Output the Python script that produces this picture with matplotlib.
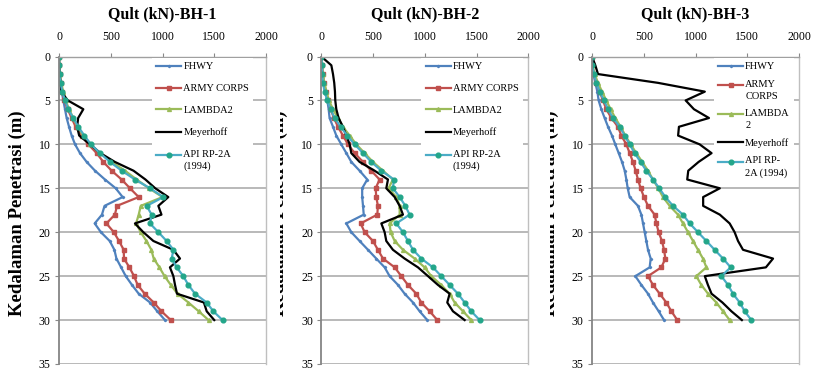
import numpy as np
import matplotlib
matplotlib.use("Agg")
import matplotlib.pyplot as plt
from matplotlib.legend_handler import HandlerLine2D
from matplotlib.transforms import Bbox, TransformedBbox

plt.rcParams['font.family'] = ['Liberation Serif', 'DejaVu Serif']

depth = list(range(0, 31))
series_names = ["FHWY", "ARMY CORPS", "LAMBDA2", "Meyerhoff", "API RP-2A\n(1994)"]
series_names_bh3 = ["FHWY", "ARMY\nCORPS", "LAMBDA\n2", "Meyerhoff", "API RP-\n2A (1994)"]
titles = ["Qult (kN)-BH-1", "Qult (kN)-BH-2", "Qult (kN)-BH-3"]
x_ticks = [0, 500, 1000, 1500, 2000]
y_ticks = [0, 5, 10, 15, 20, 25, 30, 35]

# ---- BH-1 ----
bh1_fhwy = [0, 2, 5, 13, 26, 42, 58, 74, 97, 122, 155, 203, 267, 348, 444, 548,
            615, 440, 415, 345, 405, 490, 535, 555, 600, 645, 705, 770, 880, 950, 1024]
bh1_army = [0, 3, 6, 19, 32, 52, 84, 122, 161, 219, 283, 364, 428, 509, 605, 686,
            770, 560, 540, 458, 530, 580, 625, 628, 680, 725, 760, 828, 915, 990, 1080]
bh1_lambda = [0, 3, 8, 20, 42, 64, 97, 138, 180, 235, 300, 396, 509, 638, 750, 870,
              1000, 790, 770, 745, 790, 845, 892, 915, 970, 1020, 1080, 1145, 1250, 1350, 1445]
bh1_meyer = [0, 0, 5, 15, 22, 85, 235, 185, 175, 195, 300, 400, 540, 720, 835, 930,
             1056, 960, 990, 734, 815, 912, 1105, 1169, 1072, 1105, 1121, 1140, 1400, 1427, 1500]
bh1_api = [0, 2, 5, 16, 32, 58, 90, 138, 187, 245, 309, 396, 493, 606, 734, 880,
           1008, 847, 895, 879, 960, 1040, 1105, 1089, 1137, 1201, 1250, 1314, 1427, 1491, 1580]

# ---- BH-2 ----
bh2_fhwy = [0, 6, 16, 26, 39, 58, 71, 80, 113, 145, 193, 242, 290, 370, 444, 395,
            395, 403, 410, 242, 290, 370, 451, 531, 612, 660, 741, 805, 886, 950, 1024]
bh2_army = [0, 6, 12, 25, 45, 64, 90, 122, 161, 209, 258, 322, 403, 483, 563, 525,
            531, 547, 541, 380, 419, 499, 547, 596, 709, 773, 837, 918, 966, 1047, 1121]
bh2_lambda = [0, 6, 14, 30, 50, 74, 113, 161, 209, 274, 338, 419, 499, 596, 692, 650,
              725, 757, 757, 660, 670, 709, 789, 902, 998, 1063, 1159, 1240, 1288, 1369, 1449]
bh2_meyer = [0, 97, 113, 125, 132, 135, 145, 167, 209, 242, 274, 290, 370, 515, 644, 628,
             709, 757, 789, 580, 612, 628, 692, 805, 934, 1031, 1127, 1240, 1217, 1272, 1385]
bh2_api = [0, 6, 8, 16, 32, 58, 90, 129, 187, 251, 322, 403, 483, 580, 702, 692,
           757, 812, 853, 725, 789, 837, 886, 966, 1079, 1159, 1240, 1320, 1385, 1449, 1530]

# ---- BH-3 ----
bh3_fhwy = [0, 3, 13, 32, 52, 64, 90, 122, 155, 193, 225, 258, 290, 316, 332, 345,
            364, 444, 477, 493, 509, 525, 541, 567, 557, 419, 477, 541, 589, 644, 696]
bh3_army = [0, 4, 17, 42, 74, 106, 138, 187, 251, 283, 332, 364, 396, 422, 444, 470,
            502, 541, 605, 622, 644, 676, 696, 709, 670, 541, 589, 654, 718, 767, 824]
bh3_lambda = [0, 5, 26, 58, 97, 138, 180, 225, 277, 322, 374, 428, 486, 541, 589, 640,
              686, 750, 831, 879, 928, 976, 1024, 1072, 1105, 1008, 1056, 1121, 1201, 1266, 1330]
bh3_meyer = [0, 32, 58, 638, 1090, 905, 985, 1130, 840, 832, 1040, 1155, 1030, 930, 920, 1235,
             1074, 1074, 1235, 1330, 1378, 1411, 1459, 1749, 1680, 1090, 1120, 1155, 1260, 1347, 1448]
bh3_api = [0, 3, 19, 42, 74, 116, 155, 203, 267, 316, 364, 412, 470, 525, 589, 650,
           709, 783, 879, 944, 1024, 1105, 1185, 1266, 1340, 1250, 1314, 1362, 1427, 1475, 1540]

boreholes = [
    [bh1_fhwy, bh1_army, bh1_lambda, bh1_meyer, bh1_api],
    [bh2_fhwy, bh2_army, bh2_lambda, bh2_meyer, bh2_api],
    [bh3_fhwy, bh3_army, bh3_lambda, bh3_meyer, bh3_api],
]

styles = [
    dict(color='#4F81BD', marker='D', markersize=1.2, markerfacecolor='#4F81BD'),
    dict(color='#C0504D', marker='s', markersize=3.0, markerfacecolor='#C0504D'),
    dict(color='#9BBB59', marker='^', markersize=2.8, markerfacecolor='#9BBB59'),
    dict(color='black', marker=None),
    dict(color='#4BACC6', marker='o', markersize=3.4, markerfacecolor='#23A68A',
         markeredgecolor='#23A68A'),
]


class ShiftedHandler(HandlerLine2D):
    def __init__(self, shift=0.0, **kw):
        super().__init__(**kw)
        self.shift = shift

    def create_artists(self, legend, orig_handle, xdescent, ydescent, width,
                       height, fontsize, trans):
        arts = super().create_artists(legend, orig_handle, xdescent, ydescent,
                                      width, height, fontsize, trans)
        for a in arts:
            y = np.asarray(a.get_ydata(), float)
            a.set_ydata(y + self.shift)
        return arts


W, H = 813, 370
fig = plt.figure(figsize=(W / 100, H / 100), dpi=100)

ax_left_px = [59, 321.3, 592]
ax_w_px = 207
ax_top_px = 56.5
ax_h_px = 307.5
legend_left = [0.45, 0.484, 0.589]
legend_ls = [1.2, 1.2, 0.8]
label_clip = [0, 280, 550]

LEG_FS = 7.5
LINESP = 1.4
for i in range(3):
    ax = fig.add_axes([ax_left_px[i] / W, (H - ax_top_px - ax_h_px) / H,
                       ax_w_px / W, ax_h_px / H])
    names = series_names_bh3 if i == 2 else series_names
    lines = []
    for vals, name, st in zip(boreholes[i], names, styles):
        ln, = ax.plot(vals, depth, lw=1.6, label=name, **st)
        lines.append(ln)
    ax.set_xlim(0, 2000)
    ax.set_ylim(35, 0)
    ax.set_xticks(x_ticks)
    ax.set_yticks(y_ticks)
    ax.xaxis.tick_top()
    ax.tick_params(axis='x', labelsize=8.5, length=3, pad=7, color='#888888')
    ax.tick_params(axis='y', labelsize=8.5, length=3, pad=3, color='#888888')
    ax.set_axisbelow(True)
    ax.yaxis.grid(True, color='#A6A6A6', lw=1.1)
    ax.spines['left'].set_color('#858585')
    ax.spines['left'].set_linewidth(1.3)
    ax.spines['top'].set_color('#A0A0A0')
    ax.spines['top'].set_linewidth(1.0)
    ax.spines['right'].set_color('#BFBFBF')
    ax.spines['right'].set_linewidth(1.0)
    ax.spines['bottom'].set_visible(False)

    ax.text(0.5, 1 + (ax_top_px - 14) / ax_h_px, titles[i], transform=ax.transAxes,
            ha='center', va='center', fontsize=11.5, fontweight='bold')

    ax.set_ylabel("Kedalaman Penetrasi (m)", fontsize=13.5, fontweight='bold')
    ax.yaxis.set_label_coords((26 - 59) / ax_w_px, 0.49)
    if i > 0:
        lab = ax.yaxis.label
        clip = TransformedBbox(Bbox([[label_clip[i] / W, 0], [1, 1]]), fig.transFigure)
        lab.set_clip_box(clip)
        lab.set_clip_on(True)

    hmap = {}
    for ln, name in zip(lines, names):
        if "\n" in name:
            hmap[ln] = ShiftedHandler(shift=0.5 * LINESP * 0.72 * LEG_FS)
    leg = ax.legend(handles=lines, loc='upper left',
                    bbox_to_anchor=(legend_left[i], 0.995), borderaxespad=0,
                    fontsize=LEG_FS, frameon=True, fancybox=False, framealpha=1,
                    facecolor='white', edgecolor='none', borderpad=0.4,
                    handlelength=2.4, handletextpad=0.2, labelspacing=legend_ls[i],
                    handler_map=hmap)
    for t in leg.get_texts():
        t.set_linespacing(LINESP)

fig.savefig("out.png", dpi=100)
